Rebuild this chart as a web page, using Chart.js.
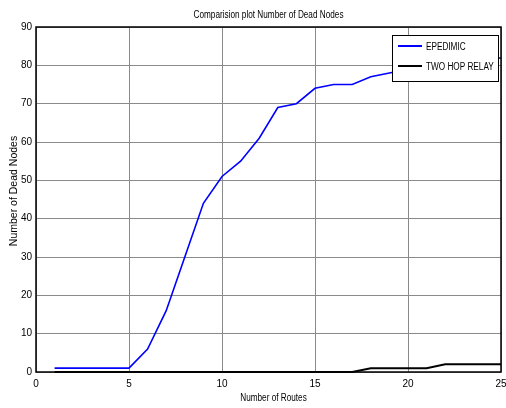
<!DOCTYPE html>
<html><head><meta charset="utf-8">
<script src="https://cdn.jsdelivr.net/npm/chart.js@4/dist/chart.umd.min.js"></script>
<style>html,body{margin:0;padding:0;background:#fff;}canvas{display:block;}</style>
</head><body>
<canvas id="c" width="506" height="408"></canvas>
<script>
const routes = [1,2,3,4,5,6,7,8,9,10,11,12,13,14,15,16,17,18,19,20,21,22,23,24,25];
const epidemic = [1,1,1,1,1,6,16,30,44,51,55,61,69,70,74,75,75,77,78,79,80,80,81,81,82];
const twoHop = [0,0,0,0,0,0,0,0,0,0,0,0,0,0,0,0,0,1,1,1,1,2,2,2,2];
const xTicks = [0,5,10,15,20,25];
const yTicks = [0,10,20,30,40,50,60,70,80,90];
const seriesNames = ['EPEDIMIC','TWO HOP RELAY'];
const chartTitle = 'Comparision plot Number of Dead Nodes';
const xTitle = 'Number of Routes';
const yTitle = 'Number of Dead Nodes';
const FONT = '"Liberation Sans", Arial, sans-serif';
const SQ = 0.82;

function narrowText(ctx, text, x, y, align, sq){
  ctx.save();
  ctx.translate(x, y);
  ctx.scale(sq === undefined ? SQ : sq, 1);
  ctx.textAlign = align;
  ctx.fillText(text, 0, 0);
  ctx.restore();
}

const framePlugin = {
  id:'frame',
  afterDatasetsDraw(chart){
    const {ctx, chartArea:a} = chart;
    ctx.save();
    ctx.strokeStyle='#000'; ctx.lineWidth=1.5;
    ctx.strokeRect(a.left, a.top, a.right-a.left, a.bottom-a.top);
    ctx.fillStyle='#000'; ctx.font='10px '+FONT; ctx.textBaseline='middle';
    narrowText(ctx, chartTitle, (a.left+a.right)/2, 15, 'center');
    narrowText(ctx, xTitle, (a.left+a.right)/2 + 5, 398, 'center');
    ctx.save();
    ctx.font='10.5px '+FONT;
    ctx.translate(14, 191);
    ctx.rotate(-Math.PI/2);
    narrowText(ctx, yTitle, 0, 0, 'center', 1);
    ctx.restore();
    // legend
    const lx=392, ly=35, lw=106, lh=46;
    ctx.fillStyle='#fff'; ctx.fillRect(lx,ly,lw,lh);
    ctx.strokeStyle='#000'; ctx.lineWidth=1; ctx.strokeRect(lx+0.5,ly+0.5,lw,lh);
    chart.data.datasets.forEach((ds,i)=>{
      const yy = ly+11+i*20;
      ctx.strokeStyle=ds.borderColor; ctx.lineWidth=2;
      ctx.beginPath(); ctx.moveTo(lx+6,yy); ctx.lineTo(lx+30,yy); ctx.stroke();
      ctx.fillStyle='#000';
      narrowText(ctx, ds.label, lx+34, yy+1, 'left');
    });
    ctx.restore();
  }
};

new Chart(document.getElementById('c'), {
  type:'line',
  data:{
    datasets:[
      {label:seriesNames[0], data:routes.map((x,i)=>({x, y:epidemic[i]})), borderColor:'#0000ff', borderWidth:1.6, pointRadius:0, tension:0, clip:false},
      {label:seriesNames[1], data:routes.map((x,i)=>({x, y:twoHop[i]})), borderColor:'#000000', borderWidth:2, pointRadius:0, tension:0, clip:false}
    ]
  },
  options:{
    responsive:false, animation:false, devicePixelRatio:1,
    layout:{padding:{top:27, right:0, left:0, bottom:0}},
    plugins:{legend:{display:false}, title:{display:false}, tooltip:{enabled:false}},
    scales:{
      x:{type:'linear', min:0, max:25,
        afterBuildTicks(s){ s.ticks = xTicks.map(v=>({value:v})); },
        afterFit(s){ s.height=36; s.paddingRight=5; s.paddingLeft=0; },
        grid:{color:'#8a8a8a', lineWidth:1, drawTicks:false},
        border:{display:false},
        ticks:{color:'#000', font:{family:FONT, size:10}, padding:6, maxRotation:0},
        title:{display:false}
      },
      y:{type:'linear', min:0, max:90,
        afterBuildTicks(s){ s.ticks = yTicks.map(v=>({value:v})); },
        afterFit(s){ s.width=36; },
        grid:{color:'#8a8a8a', lineWidth:1, drawTicks:false},
        border:{display:false},
        ticks:{color:'#000', font:{family:FONT, size:10}, padding:4},
        title:{display:false}
      }
    }
  },
  plugins:[framePlugin]
});
</script>
</body></html>
